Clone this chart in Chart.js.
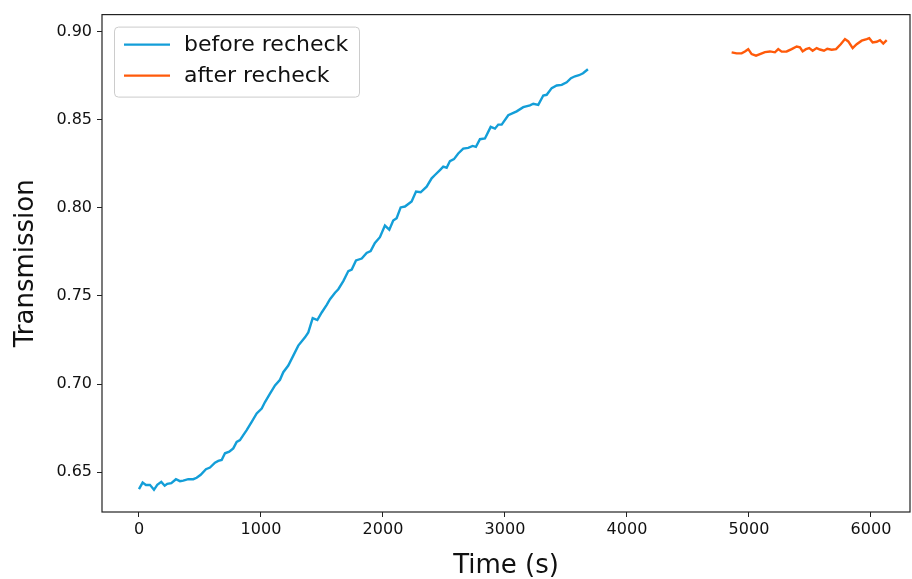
<!DOCTYPE html>
<html>
<head>
<meta charset="utf-8">
<script src="https://cdn.jsdelivr.net/npm/chart.js@4.4.1/dist/chart.umd.min.js"></script>
<style>
  html, body { margin: 0; padding: 0; background: #ffffff; }
  #wrap { width: 912px; height: 579px; }
</style>
</head>
<body>
<div id="wrap"><canvas id="c" width="912" height="579"></canvas></div>
<script>
// Transmission measured over time, before and after the recheck
const beforeTime = [0, 30, 57, 90, 123, 150, 183, 211, 232, 265, 303, 336, 363, 404, 445, 473, 506, 549, 582, 623,
  650, 678, 705, 740, 773, 801, 828, 855, 883, 924, 965, 1006, 1033, 1074, 1115, 1156, 1183, 1224, 1265, 1306,
  1361, 1388, 1424, 1462, 1498, 1539, 1566, 1607, 1634, 1675, 1716, 1744, 1779, 1826, 1866, 1899, 1934, 1975, 2016, 2052,
  2084, 2112, 2145, 2180, 2235, 2271, 2309, 2358, 2399, 2426, 2467, 2494, 2522, 2549, 2582, 2617, 2658, 2699, 2735, 2762,
  2795, 2836, 2883, 2918, 2945, 2973, 3027, 3096, 3150, 3205, 3232, 3273, 3314, 3342, 3383, 3424, 3465, 3506, 3541, 3574,
  3607, 3640, 3680];
const beforeValue = [0.6404, 0.6441, 0.6427, 0.6428, 0.6400, 0.6428, 0.6445, 0.6423, 0.6434, 0.6438, 0.6460, 0.6449, 0.6452, 0.6460, 0.6460, 0.6468, 0.6485, 0.6517, 0.6526, 0.6554,
  0.6564, 0.6569, 0.6607, 0.6616, 0.6635, 0.6672, 0.6682, 0.6710, 0.6738, 0.6785, 0.6833, 0.6861, 0.6898, 0.6945, 0.6992, 0.7024, 0.7067, 0.7105, 0.7161, 0.7218,
  0.7265, 0.7293, 0.7374, 0.7363, 0.7406, 0.7449, 0.7481, 0.7518, 0.7538, 0.7584, 0.7641, 0.7650, 0.7701, 0.7712, 0.7744, 0.7754, 0.7800, 0.7833, 0.7899, 0.7876,
  0.7927, 0.7941, 0.8002, 0.8007, 0.8036, 0.8092, 0.8088, 0.8120, 0.8167, 0.8186, 0.8214, 0.8233, 0.8227, 0.8265, 0.8276, 0.8308, 0.8336, 0.8340, 0.8351, 0.8346,
  0.8389, 0.8393, 0.8459, 0.8449, 0.8472, 0.8472, 0.8525, 0.8547, 0.8571, 0.8581, 0.8590, 0.8584, 0.8637, 0.8641, 0.8679, 0.8694, 0.8697, 0.8712, 0.8735, 0.8746,
  0.8752, 0.8763, 0.8786];

const afterTime = [4858, 4899, 4940, 4967, 4994, 5022, 5058, 5090, 5131, 5172, 5213, 5240, 5268, 5309, 5350, 5391, 5418, 5440, 5467, 5494,
  5522, 5555, 5582, 5615, 5642, 5678, 5714, 5752, 5787, 5814, 5850, 5883, 5924, 5965, 5986, 6014, 6047, 6074, 6101, 6129];
const afterValue = [0.8882, 0.8876, 0.8876, 0.8887, 0.8900, 0.8872, 0.8863, 0.8872, 0.8883, 0.8887, 0.8882, 0.8900, 0.8886, 0.8887, 0.8900, 0.8915, 0.8910, 0.8887, 0.8900, 0.8906,
  0.8891, 0.8906, 0.8898, 0.8891, 0.8902, 0.8897, 0.8900, 0.8928, 0.8957, 0.8944, 0.8906, 0.8928, 0.8948, 0.8957, 0.8962, 0.8938, 0.8942, 0.8951, 0.8932, 0.8951];

const seriesLabels = ['before recheck', 'after recheck'];
const xTickValues = [0, 1000, 2000, 3000, 4000, 5000, 6000];
const yTickValues = [0.65, 0.70, 0.75, 0.80, 0.85, 0.90];

const toPoints = (xs, ys) => xs.map((x, i) => ({ x: x, y: ys[i] }));

const FONT = "'DejaVu Sans', sans-serif";
const AXIS_COLOR = '#222222';

// frame around the plotting area (all four sides)
const framePlugin = {
  id: 'frame',
  afterDatasetsDraw(chart) {
    const { ctx, chartArea: a } = chart;
    ctx.save();
    ctx.strokeStyle = AXIS_COLOR;
    ctx.lineWidth = 1.2;
    ctx.strokeRect(a.left, a.top, a.right - a.left, a.bottom - a.top);
    ctx.restore();
  }
};

// legend box in the upper-left corner of the plot
const insetLegend = {
  id: 'insetLegend',
  afterDraw(chart) {
    const { ctx, chartArea: a } = chart;
    const x = a.left + 12, y = a.top + 12, w = 245, h = 70;
    ctx.save();
    ctx.fillStyle = 'rgba(255,255,255,0.85)';
    ctx.strokeStyle = '#cccccc';
    ctx.lineWidth = 1;
    ctx.beginPath();
    ctx.roundRect(x + 0.5, y + 0.5, w, h, 4);
    ctx.fill();
    ctx.stroke();
    ctx.font = `22px ${FONT}`;
    ctx.textBaseline = 'middle';
    chart.data.datasets.forEach((ds, i) => {
      const ly = y + 18 + i * 31;
      ctx.strokeStyle = ds.borderColor;
      ctx.lineWidth = 2.4;
      ctx.beginPath();
      ctx.moveTo(x + 10, ly);
      ctx.lineTo(x + 56, ly);
      ctx.stroke();
      ctx.fillStyle = '#111111';
      ctx.fillText(ds.label, x + 70, ly + 1);
    });
    ctx.restore();
  }
};

new Chart(document.getElementById('c'), {
  type: 'line',
  data: {
    datasets: [
      { label: seriesLabels[0], data: toPoints(beforeTime, beforeValue), borderColor: '#139ed8', borderWidth: 2.4, pointRadius: 0, tension: 0, fill: false },
      { label: seriesLabels[1], data: toPoints(afterTime, afterValue), borderColor: '#ff5a0a', borderWidth: 2.4, pointRadius: 0, tension: 0, fill: false }
    ]
  },
  options: {
    responsive: false,
    animation: false,
    layout: { padding: { top: 12, right: 2, left: 0, bottom: -3 } },
    plugins: { legend: { display: false }, tooltip: { enabled: false } },
    scales: {
      x: {
        type: 'linear',
        min: -303,
        max: 6320,
        afterBuildTicks(scale) { scale.ticks = xTickValues.map(v => ({ value: v })); },
        afterFit(scale) { scale.height = 70; },
        grid: { drawOnChartArea: false, drawTicks: true, tickLength: 5, tickColor: AXIS_COLOR },
        border: { display: false },
        ticks: { color: '#111111', font: { family: FONT, size: 16 }, padding: 3, maxRotation: 0, callback: v => String(v) },
        title: { display: true, text: 'Time (s)', color: '#111111', font: { family: FONT, size: 26 }, padding: { top: 0, bottom: 0 } }
      },
      y: {
        type: 'linear',
        min: 0.6274,
        max: 0.9096,
        afterBuildTicks(scale) { scale.ticks = yTickValues.map(v => ({ value: v })); },
        afterFit(scale) { scale.width = 102; },
        grid: { drawOnChartArea: false, drawTicks: true, tickLength: 5, tickColor: AXIS_COLOR },
        border: { display: false },
        ticks: { color: '#111111', font: { family: FONT, size: 16 }, padding: 5, callback: v => v.toFixed(2) },
        title: { display: true, text: 'Transmission', color: '#111111', font: { family: FONT, size: 26 }, padding: { top: 11, bottom: 4 } }
      }
    }
  },
  plugins: [framePlugin, insetLegend]
});
</script>
</body>
</html>
